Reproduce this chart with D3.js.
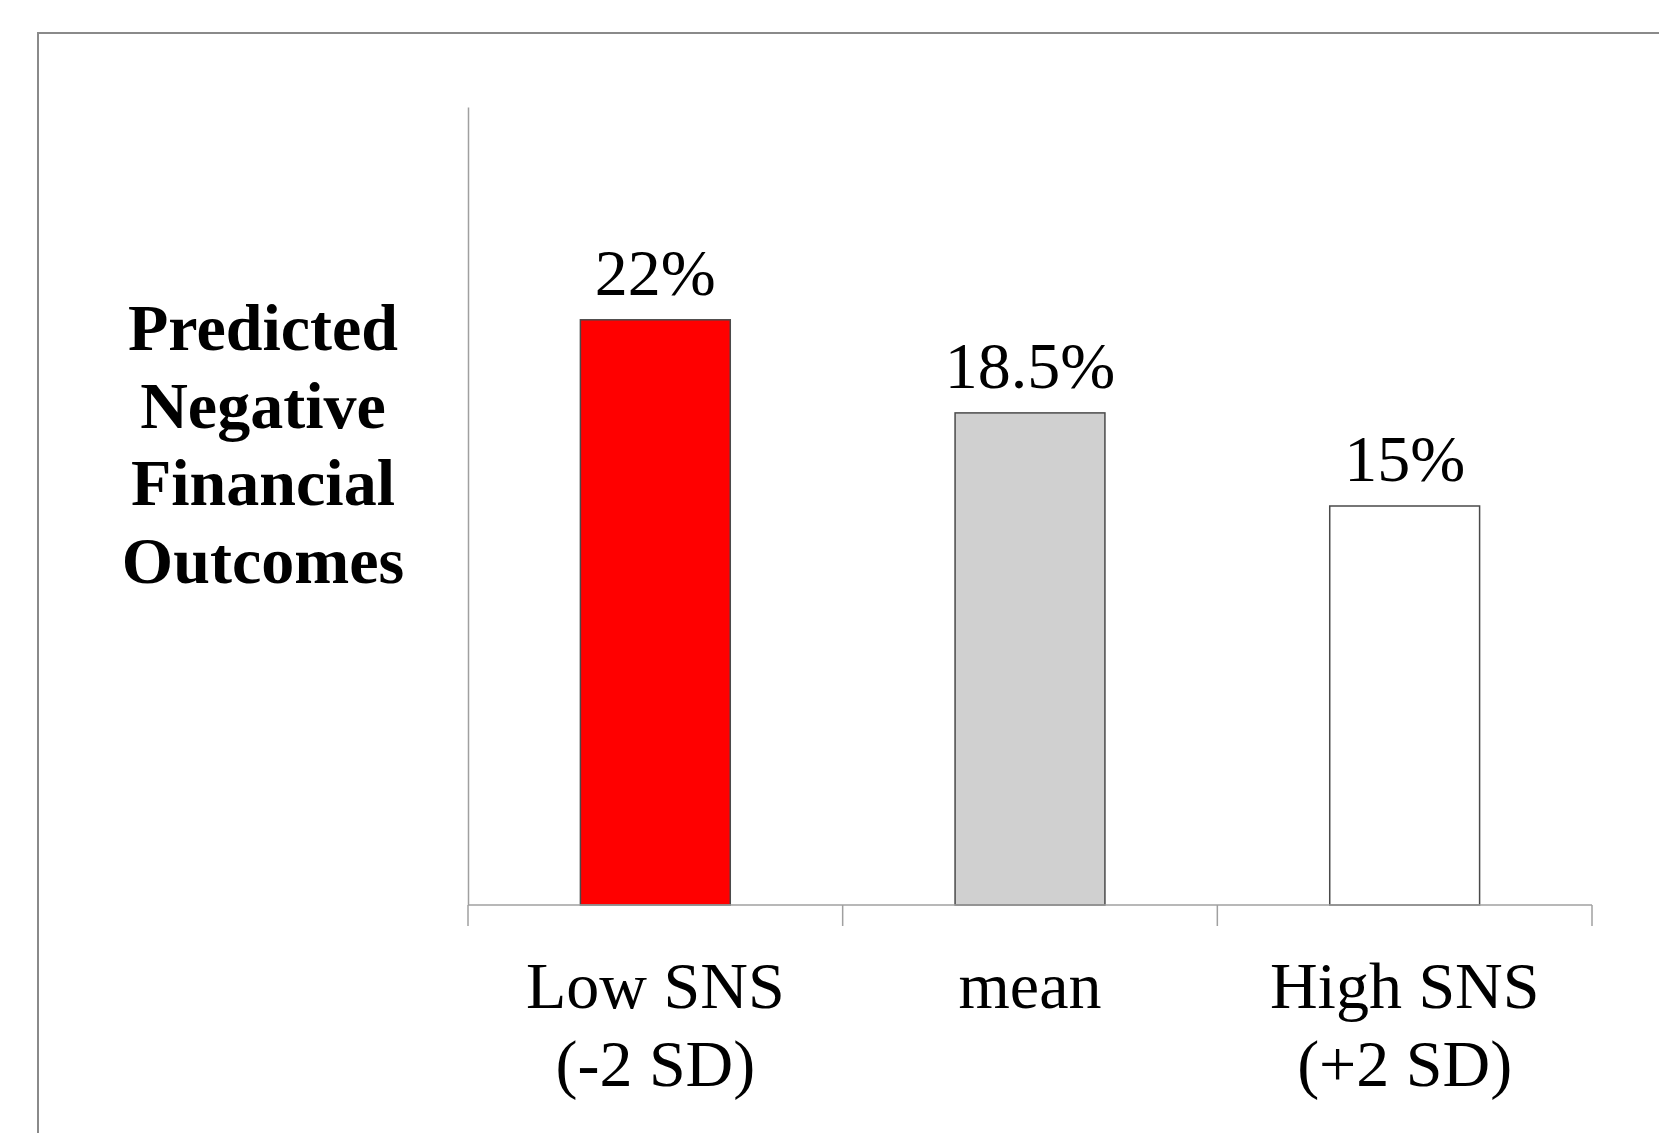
<!DOCTYPE html>
<html>
<head>
<meta charset="utf-8">
<script src="https://cdn.jsdelivr.net/npm/d3@7"></script>
<style>
  html, body { margin: 0; padding: 0; background: #fff; }
  svg { display: block; }
  text { font-family: "Liberation Serif", "Times New Roman", serif; fill: #000; }
</style>
</head>
<body>
<svg id="chart" width="1659" height="1133"></svg>
<script>
// Predicted share of negative financial outcomes by SNS level
const categories = ["Low SNS\n(-2 SD)", "mean", "High SNS\n(+2 SD)"];
const values = [22, 18.5, 15];
const valueLabels = ["22%", "18.5%", "15%"];
const barColors = ["#ff0000", "#d0d0d0", "#ffffff"];
const yTitleLines = ["Predicted", "Negative", "Financial", "Outcomes"];
const yDomain = [0, 30];

const svg = d3.select("#chart");

// outer frame of the slide
svg.append("rect")
  .attr("x", 38).attr("y", 33)
  .attr("width", 1700).attr("height", 1200)
  .attr("fill", "none")
  .attr("stroke", "#8a8a8a")
  .attr("stroke-width", 2);

const x = d3.scaleBand()
  .domain(categories)
  .range([468, 1592])
  .paddingInner(0.6)
  .paddingOuter(0.3);

const y = d3.scaleLinear()
  .domain(yDomain)
  .range([905, 107]);

// value axis: plain line, no ticks
svg.append("g")
  .attr("transform", `translate(${x.range()[0]},0)`)
  .call(d3.axisLeft(y).ticks(0).tickSizeOuter(0))
  .call(g => g.select(".domain").attr("stroke", "#a0a0a0").attr("stroke-width", 1.5));

// bars
svg.append("g")
  .selectAll("rect")
  .data(values)
  .join("rect")
  .attr("x", (d, i) => x(categories[i]))
  .attr("y", d => y(d))
  .attr("width", x.bandwidth())
  .attr("height", d => y(0) - y(d))
  .attr("fill", (d, i) => barColors[i])
  .attr("stroke", "#4a4a4a")
  .attr("stroke-width", 1.5);

// category axis with ticks at the band boundaries
const half = (x.step() - x.bandwidth()) / 2;
const boundaries = categories.map(c => x(c) - half).concat([x.range()[1]]);
const xAxis = svg.append("g").attr("transform", `translate(0,${y(0)})`);
xAxis.append("line")
  .attr("x1", x.range()[0]).attr("x2", x.range()[1])
  .attr("stroke", "#a0a0a0").attr("stroke-width", 1.5);
xAxis.selectAll("line.tick")
  .data(boundaries)
  .join("line")
  .attr("class", "tick")
  .attr("x1", d => d).attr("x2", d => d)
  .attr("y1", 0).attr("y2", 21)
  .attr("stroke", "#a0a0a0").attr("stroke-width", 1.5);

// category labels (two lines where needed)
const catLabels = svg.append("g")
  .selectAll("text")
  .data(categories)
  .join("text")
  .attr("text-anchor", "middle")
  .attr("font-size", 66)
  .attr("x", d => x(d) + x.bandwidth() / 2)
  .attr("y", 1008);
catLabels.selectAll("tspan")
  .data(d => d.split("\n"))
  .join("tspan")
  .attr("x", function () { return d3.select(this.parentNode).attr("x"); })
  .attr("dy", (d, i) => i === 0 ? 0 : 78)
  .text(d => d);

// value labels above bars
svg.append("g")
  .selectAll("text")
  .data(values)
  .join("text")
  .attr("text-anchor", "middle")
  .attr("font-size", 66)
  .attr("x", (d, i) => x(categories[i]) + x.bandwidth() / 2)
  .attr("y", d => y(d) - 25)
  .text((d, i) => valueLabels[i]);

// bold value-axis title
svg.append("text")
  .attr("text-anchor", "middle")
  .attr("font-size", 66)
  .attr("font-weight", "bold")
  .attr("y", 350)
  .selectAll("tspan")
  .data(yTitleLines)
  .join("tspan")
  .attr("x", 263)
  .attr("dy", (d, i) => i === 0 ? 0 : 77.7)
  .text(d => d);
</script>
</body>
</html>
